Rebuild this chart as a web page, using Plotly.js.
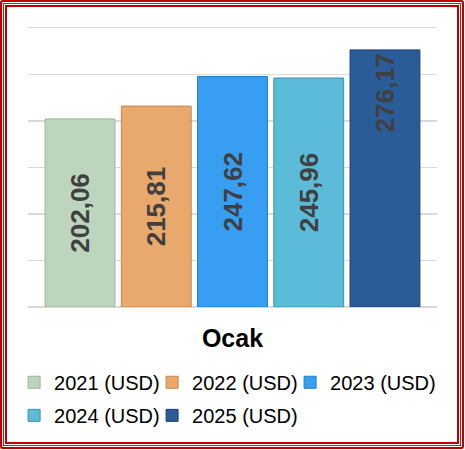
<!DOCTYPE html>
<html>
<head>
<meta charset="utf-8">
<script src="https://cdn.plot.ly/plotly-3.0.1.min.js"></script>
<style>
  html, body { margin: 0; padding: 0; background: #ffffff; }
  #wrap { position: relative; width: 465px; height: 450px; }
  #chart { position: absolute; left: 0; top: 0; width: 465px; height: 450px; }
  #frame {
    position: absolute; left: 0; top: 0; width: 464px; height: 449px;
    box-sizing: border-box; pointer-events: none; border-radius: 3px;
    box-shadow:
      inset 0 0 0 2px #C00000,
      inset 0 0 0 3px #ffffff,
      inset 0 0 0 4px #D01818,
      inset 0 0 0 5px #ffffff,
      inset 0 0 0 7px #C00000;
  }
</style>
</head>
<body>
<div id="wrap">
  <div id="chart"></div>
  <div id="frame"></div>
</div>
<script>
// ---- data ----
const category = ['Ocak'];
const seriesNames = ['2021 (USD)', '2022 (USD)', '2023 (USD)', '2024 (USD)', '2025 (USD)'];
const values2021 = [202.06];
const values2022 = [215.81];
const values2023 = [247.62];
const values2024 = [245.96];
const values2025 = [276.17];

// ---- styles ----
const seriesValues = [values2021, values2022, values2023, values2024, values2025];
const fillColors = ['#BDD5BD', '#E9A96C', '#389EF2', '#5BBBD8', '#2A5C9A'];
const edgeColors = ['#9BB39B', '#C4864C', '#1F7CC8', '#3B93AE', '#1B3F6C'];
const textAnchors = ['middle', 'middle', 'middle', 'middle', 'end'];
const legendIds = ['legend', 'legend', 'legend', 'legend2', 'legend2'];
const legendWidths = [93, 93, undefined, 93, undefined];

const traces = seriesNames.map((name, i) => {
  const t = {
    type: 'bar',
    name: name,
    x: category,
    y: seriesValues[i],
    legend: legendIds[i],
    marker: { color: fillColors[i], line: { color: edgeColors[i], width: 1 } },
    texttemplate: '%{y:.2f}',
    textposition: 'inside',
    insidetextanchor: textAnchors[i],
    textangle: -90,
    insidetextfont: { family: 'Liberation Sans, Arial, sans-serif', size: 26, color: '#404040', weight: 'bold' },
    hoverinfo: 'skip'
  };
  if (legendWidths[i] !== undefined) t.legendwidth = legendWidths[i];
  return t;
});

const legendFont = { family: 'Liberation Sans, Arial, sans-serif', size: 20, color: '#000000' };

const layout = {
  width: 465,
  height: 450,
  separators: ',.',
  margin: { l: 28, r: 28, t: 24, b: 143, autoexpand: false },
  paper_bgcolor: '#ffffff',
  plot_bgcolor: '#ffffff',
  barmode: 'group',
  bargap: 0.068,
  bargroupgap: 0.084,
  font: { family: 'Liberation Sans, Arial, sans-serif', color: '#000000' },
  xaxis: {
    showgrid: false,
    showline: false,
    ticks: '',
    ticklabelstandoff: 14,
    tickfont: { family: 'Liberation Sans, Arial, sans-serif', size: 25, color: '#000000', weight: 'bold' }
  },
  yaxis: {
    range: [0, 304],
    tick0: 0,
    dtick: 50,
    showticklabels: false,
    ticks: '',
    showgrid: true,
    gridcolor: '#D9D9D9',
    gridwidth: 1.5,
    zeroline: true,
    zerolinecolor: '#D9D9D9',
    zerolinewidth: 2
  },
  showlegend: true,
  legend: {
    orientation: 'h',
    x: -0.034,
    xanchor: 'left',
    y: -0.197,
    yanchor: 'top',
    font: legendFont,
    bgcolor: 'rgba(0,0,0,0)',
    traceorder: 'normal'
  },
  legend2: {
    orientation: 'h',
    x: -0.034,
    xanchor: 'left',
    y: -0.314,
    yanchor: 'top',
    font: legendFont,
    bgcolor: 'rgba(0,0,0,0)',
    traceorder: 'normal'
  }
};

Plotly.newPlot('chart', traces, layout, { displayModeBar: false, staticPlot: true });
</script>
</body>
</html>
